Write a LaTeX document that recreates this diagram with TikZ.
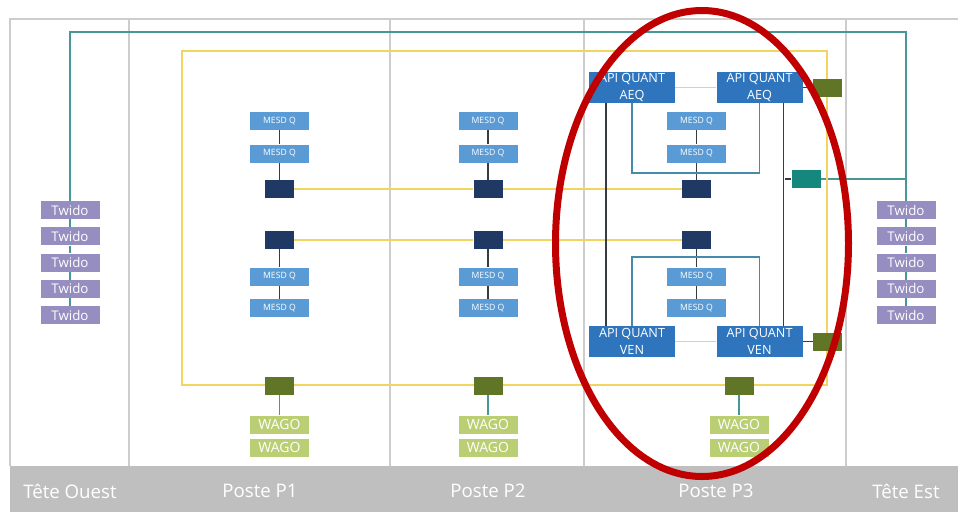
\documentclass[tikz,border=0pt]{standalone}
\usepackage{fontspec}
\setmainfont{Open Sans}
\usetikzlibrary{positioning,backgrounds}

\definecolor{twidoPurple}{RGB}{150,141,192}
\definecolor{mesdBlue}{RGB}{91,155,213}
\definecolor{apiBlue}{RGB}{46,117,190}
\definecolor{navyBlue}{RGB}{31,56,100}
\definecolor{oliveGreen}{RGB}{96,118,38}
\definecolor{wagoGreen}{RGB}{186,207,116}
\definecolor{tealBox}{RGB}{22,135,125}
\definecolor{busTeal}{RGB}{70,152,152}
\definecolor{busYellow}{RGB}{242,212,96}
\definecolor{gridGray}{RGB}{205,205,205}
\definecolor{bandGray}{RGB}{191,191,191}
\definecolor{ringRed}{RGB}{192,0,0}
\definecolor{linkDark}{RGB}{55,60,65}
\definecolor{linkBlue}{RGB}{70,140,170}

\begin{document}
\begin{tikzpicture}[
    x=0.75pt, y=-0.75pt,
    twidobox/.style={
        rectangle,
        fill=twidoPurple,
        text=white,
        inner sep=0pt,
        minimum width=44.25pt,
        minimum height=13.5pt,
        font=\fontsize{10}{12}\selectfont
    },
    mesdbox/.style={
        rectangle,
        fill=mesdBlue,
        text=white,
        inner sep=0pt,
        minimum width=44.25pt,
        minimum height=13.5pt,
        font=\fontsize{6.5}{8}\selectfont
    },
    apibox/.style={
        rectangle,
        fill=apiBlue,
        text=white,
        align=center,
        inner sep=0pt,
        minimum width=64.5pt,
        minimum height=23.25pt,
        font=\fontsize{9.5}{12.5}\selectfont
    },
    wagobox/.style={
        rectangle,
        fill=wagoGreen,
        text=white,
        inner sep=0pt,
        minimum width=44.25pt,
        minimum height=13.5pt,
        font=\fontsize{10.5}{12}\selectfont
    },
    smallbox/.style={
        rectangle,
        inner sep=0pt,
        minimum width=21.75pt,
        minimum height=13.5pt
    },
    navybox/.style={smallbox, fill=navyBlue},
    olivebox/.style={smallbox, fill=oliveGreen},
    tealbox/.style={smallbox, fill=tealBox},
    bandlabel/.style={text=white, font=\fontsize{14}{16}\selectfont},
    grid line/.style={draw=gridGray, line width=1pt},
    teal line/.style={draw=busTeal, line width=1.2pt},
    yellow line/.style={draw=busYellow, line width=1.2pt},
    dark line/.style={draw=linkDark, line width=0.9pt},
    blue line/.style={draw=linkBlue, line width=1pt},
    ring/.style={draw=ringRed, line width=5.25pt}
]

\useasboundingbox (0,0) rectangle (958,512);

% Bottom band with column titles
\fill [bandGray] (10,466) rectangle (958,512);
\node [bandlabel] (lblWest) at (70,491) {Tête Ouest};
\node [bandlabel] (lblP1) at (260,491) {Poste P1};
\node [bandlabel] (lblP2) at (488,491) {Poste P2};
\node [bandlabel] (lblP3) at (716,491) {Poste P3};
\node [bandlabel] (lblEast) at (906,491) {Tête Est};

% Twido stacks at both heads
\node [twidobox] (twW1) at (70,210) {Twido};
\node [twidobox, below=5.8pt of twW1] (twW2) {Twido};
\node [twidobox, below=5.8pt of twW2] (twW3) {Twido};
\node [twidobox, below=5.8pt of twW3] (twW4) {Twido};
\node [twidobox, below=5.8pt of twW4] (twW5) {Twido};

\node [twidobox] (twE1) at (906,210) {Twido};
\node [twidobox, below=5.8pt of twE1] (twE2) {Twido};
\node [twidobox, below=5.8pt of twE2] (twE3) {Twido};
\node [twidobox, below=5.8pt of twE3] (twE4) {Twido};
\node [twidobox, below=5.8pt of twE4] (twE5) {Twido};

% Poste P1
\node [mesdbox] (mesdP1a) at (279.5,121) {MESD Q};
\node [mesdbox] (mesdP1b) at (279.5,153.5) {MESD Q};
\node [navybox] (navyP1a) at (279.5,189) {};
\node [navybox] (navyP1b) at (279.5,240) {};
\node [mesdbox] (mesdP1c) at (279.5,276.5) {MESD Q};
\node [mesdbox] (mesdP1d) at (279.5,308) {MESD Q};
\node [olivebox] (oliveP1) at (279.5,386) {};
\node [wagobox] (wagoP1a) at (279.5,424.5) {WAGO};
\node [wagobox] (wagoP1b) at (279.5,447.5) {WAGO};

% Poste P2
\node [mesdbox] (mesdP2a) at (488,121) {MESD Q};
\node [mesdbox] (mesdP2b) at (488,153.5) {MESD Q};
\node [navybox] (navyP2a) at (488,189) {};
\node [navybox] (navyP2b) at (488,240) {};
\node [mesdbox] (mesdP2c) at (488,276.5) {MESD Q};
\node [mesdbox] (mesdP2d) at (488,308) {MESD Q};
\node [olivebox] (oliveP2) at (488,386) {};
\node [wagobox] (wagoP2a) at (488,424.5) {WAGO};
\node [wagobox] (wagoP2b) at (488,447.5) {WAGO};

% Poste P3
\node [apibox] (apiAEQl) at (632,87.5) {API QUANT\\AEQ};
\node [apibox] (apiAEQr) at (759.5,87.5) {API QUANT\\AEQ};
\node [apibox] (apiVENl) at (632,341.5) {API QUANT\\VEN};
\node [apibox] (apiVENr) at (759.5,341.5) {API QUANT\\VEN};
\node [mesdbox] (mesdP3a) at (696.5,121) {MESD Q};
\node [mesdbox] (mesdP3b) at (696.5,153.5) {MESD Q};
\node [navybox] (navyP3a) at (696.5,189) {};
\node [navybox] (navyP3b) at (696.5,240) {};
\node [mesdbox] (mesdP3c) at (696.5,276.5) {MESD Q};
\node [mesdbox] (mesdP3d) at (696.5,308) {MESD Q};
\node [olivebox] (oliveP3) at (739,386) {};
\node [wagobox] (wagoP3a) at (739,424.5) {WAGO};
\node [wagobox] (wagoP3b) at (739,447.5) {WAGO};
\node [olivebox] (oliveAEQ) at (827.5,87.5) {};
\node [olivebox] (oliveVEN) at (827.5,341.5) {};
\node [tealbox] (tealLink) at (806,179) {};

\coordinate (busTop) at (488,32);
\coordinate (bracketTop) at (696.5,173);
\coordinate (bracketBot) at (696.5,257);

% Wiring behind the boxes
\begin{scope}[on background layer]
    % frame and column dividers
    \draw [grid line] (10,466) -- (10,19) -- (958,19);
    \draw [grid line] (129,19) -- (129,466);
    \draw [grid line] (390,19) -- (390,466);
    \draw [grid line] (584,19) -- (584,466);
    \draw [grid line] (846,19) -- (846,466);

    % teal bus between heads
    \draw [teal line] (twW1.north) |- (busTop) -| (twE1.north);
    \draw [teal line] (tealLink.east) -- (tealLink.east -| twE1.north);

    % yellow ring and links
    \draw [yellow line] (182,51) rectangle (827,385);
    \draw [yellow line] (navyP1a) -- (navyP2a) -- (navyP3a);
    \draw [yellow line] (navyP1b) -- (navyP2b) -- (navyP3b);
    \draw [yellow line] (apiAEQl) -- (apiAEQr);
    \draw [yellow line] (apiVENl) -- (apiVENr);

    % stacks
    \draw [busTeal, line width=0.8pt] (twW1) -- (twW2) -- (twW3) -- (twW4) -- (twW5);
    \draw [busTeal, line width=0.8pt] (twE1) -- (twE2) -- (twE3) -- (twE4) -- (twE5);
    \draw [dark line] (mesdP1a) -- (mesdP1b) -- (navyP1a);
    \draw [dark line] (navyP1b) -- (mesdP1c) -- (mesdP1d);
    \draw [dark line] (mesdP2a) -- (mesdP2b) -- (navyP2a);
    \draw [dark line] (navyP2b) -- (mesdP2c) -- (mesdP2d);
    \draw [dark line] (mesdP3a) -- (mesdP3b) -- (navyP3a);
    \draw [dark line] (navyP3b) -- (mesdP3c) -- (mesdP3d);
    \draw [teal line] (oliveP1) -- (wagoP1a);
    \draw [teal line] (oliveP2) -- (wagoP2a);
    \draw [teal line] (oliveP3) -- (wagoP3a);

    % API QUANT wiring
    \draw [dark line] ([xshift=-19.5pt]apiAEQl.south) -- ([xshift=-19.5pt]apiVENl.north);
    \draw [dark line] ([xshift=18pt]apiAEQr.south) -- ([xshift=18pt]apiVENr.north);
    \draw [dark line] (tealLink.west) -- ++(-6,0);
    \draw [dark line] (apiAEQr.east) -- (oliveAEQ.west);
    \draw [dark line] (apiVENr.east) -- (oliveVEN.west);
    \draw [blue line] (apiAEQl.south) |- (bracketTop) -| (apiAEQr.south);
    \draw [blue line] (apiVENl.north) |- (bracketBot) -| (apiVENr.north);
\end{scope}

% Highlight of Poste P3
\draw [ring] (702,243.5) ellipse [x radius=146.5, y radius=233];

\end{tikzpicture}
\end{document}
